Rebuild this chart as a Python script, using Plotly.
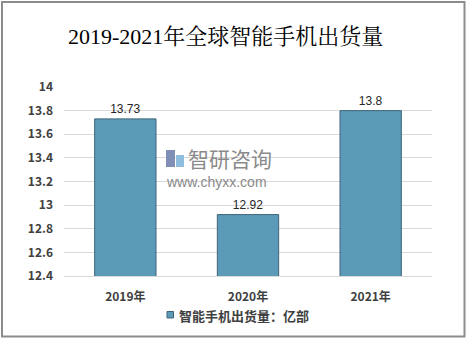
import plotly.graph_objects as go

# Shipment data (unit: 亿部)
years = ["2019年", "2020年", "2021年"]
shipments = [13.73, 12.92, 13.8]
y_ticks = [12.4, 12.6, 12.8, 13, 13.2, 13.4, 13.6, 13.8, 14]
y_tick_text = ["12.4", "12.6", "12.8", "13", "13.2", "13.4", "13.6", "13.8", "14"]
series_name = "智能手机出货量：亿部"

W, H = 467, 339
ML, MR, MT, MB = 64, 35, 87, 63
pw, ph = W - ML - MR, H - MT - MB

BAR_COLOR = "#5b9bb7"
BAR_EDGE = "#3e6378"


def px_x(x):
    return (x - ML) / pw


def px_y(y):
    return (H - MB - y) / ph


fig = go.Figure()
fig.add_trace(go.Bar(
    x=years,
    y=shipments,
    name=series_name,
    width=0.5,
    showlegend=False,
    marker=dict(color=BAR_COLOR, line=dict(color=BAR_EDGE, width=1)),
    text=[f"{v:g}" for v in shipments],
    textposition="outside",
    cliponaxis=False,
    textfont=dict(family="Liberation Sans, Arial", size=12, color="#262626"),
))

fig.update_layout(
    width=W, height=H,
    margin=dict(l=ML, r=MR, t=MT, b=MB),
    paper_bgcolor="white",
    plot_bgcolor="white",
    showlegend=False,
    xaxis=dict(
        showgrid=False, showline=True, linecolor="#d9d9d9", linewidth=1,
        ticks="", tickfont=dict(family="Noto Sans CJK SC", size=12, color="#404040", weight="bold"),
        ticklabelstandoff=10,
    ),
    yaxis=dict(
        range=[12.4, 14], tickvals=y_ticks, ticktext=y_tick_text,
        showgrid=True, gridcolor="#d9d9d9", gridwidth=1, zeroline=False,
        showline=False, ticks="",
        tickfont=dict(family="Noto Sans CJK SC", size=12, color="#404040", weight="bold"),
        ticklabelstandoff=10,
    ),
    shapes=[
        dict(type="rect", xref="paper", yref="paper",
             x0=px_x(2), x1=px_x(464.5), y0=px_y(336.5), y1=px_y(2),
             line=dict(color="#8c8c8c", width=2), fillcolor="rgba(0,0,0,0)", layer="below"),
        # legend swatch
        dict(type="rect", xref="paper", yref="paper",
             x0=px_x(167), x1=px_x(173.5), y0=px_y(318), y1=px_y(311.5),
             line=dict(color=BAR_EDGE, width=1), fillcolor=BAR_COLOR),
        # watermark logo
        dict(type="rect", xref="paper", yref="paper",
             x0=px_x(166), x1=px_x(175), y0=px_y(167), y1=px_y(150),
             line=dict(width=0), fillcolor="#7f8fb5"),
        dict(type="rect", xref="paper", yref="paper",
             x0=px_x(176), x1=px_x(184), y0=px_y(167), y1=px_y(155),
             line=dict(width=0), fillcolor="#8fbde0"),
    ],
    annotations=[
        dict(text="2019-2021年全球智能手机出货量", xref="paper", yref="paper",
             x=px_x(225), y=px_y(37), xanchor="center", yanchor="middle", showarrow=False,
             font=dict(family="Liberation Serif, Noto Serif CJK SC, Noto Sans CJK SC", size=22,
                       color="#000000")),
        dict(text=series_name, xref="paper", yref="paper",
             x=px_x(177), y=px_y(315), xanchor="left", yanchor="middle", showarrow=False,
             font=dict(family="Noto Sans CJK SC", size=13, color="#404040", weight="bold")),
        dict(text="智研咨询", xref="paper", yref="paper",
             x=px_x(186), y=px_y(158), xanchor="left", yanchor="middle", showarrow=False,
             font=dict(family="Noto Sans CJK SC", size=21, color="#8a8a8a")),
        dict(text="www.chyxx.com", xref="paper", yref="paper",
             x=px_x(164), y=px_y(182), xanchor="left", yanchor="middle", showarrow=False,
             font=dict(family="Liberation Sans, Arial", size=14, color="#8a8a8a")),
    ],
)

fig.write_html("out.html")
